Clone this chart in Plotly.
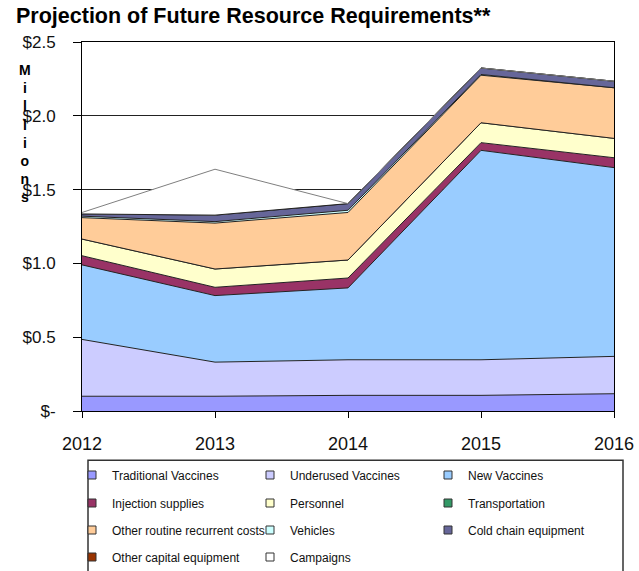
"""Projection of Future Resource Requirements — stacked area chart (millions USD)."""

import plotly.graph_objects as go

years = [2012, 2013, 2014, 2015, 2016]

# values per category, millions of dollars
traditional_vaccines = [0.100, 0.100, 0.106, 0.106, 0.117]
underused_vaccines = [0.385, 0.231, 0.241, 0.241, 0.253]
new_vaccines = [0.505, 0.451, 0.487, 1.419, 1.279]
injection_supplies = [0.062, 0.056, 0.067, 0.052, 0.067]
personnel = [0.113, 0.124, 0.122, 0.135, 0.131]
transportation = [0.0, 0.0, 0.0, 0.0, 0.0]
other_routine = [0.145, 0.311, 0.322, 0.322, 0.343]
vehicles = [0.010, 0.010, 0.015, 0.005, 0.0]
cold_chain = [0.015, 0.044, 0.045, 0.044, 0.044]
other_capital = [0.0, 0.0, 0.0, 0.0, 0.0]
campaigns = [0.010, 0.311, 0.0, 0.0, 0.0]

series_names = [
    "Traditional Vaccines", "Underused Vaccines", "New Vaccines",
    "Injection supplies", "Personnel", "Transportation",
    "Other routine recurrent costs", "Vehicles", "Cold chain equipment",
    "Other capital equipment", "Campaigns",
]
series_values = [
    traditional_vaccines, underused_vaccines, new_vaccines,
    injection_supplies, personnel, transportation,
    other_routine, vehicles, cold_chain,
    other_capital, campaigns,
]
series_colors = [
    "#9999FF", "#CCCCFF", "#99CCFF",
    "#993366", "#FFFFCC", "#339966",
    "#FFCC99", "#CCFFFF", "#666699",
    "#993300", "#FFFFFF",
]

y_tick_vals = [0, 0.5, 1.0, 1.5, 2.0, 2.5]
y_tick_text = ["$-", "$0.5", "$1.0", "$1.5", "$2.0", "$2.5"]

FONT = "Liberation Sans, Arial, sans-serif"
INK = "#111111"

fig = go.Figure()

# stacked areas
for name, vals, color in zip(series_names, series_values, series_colors):
    edge = "#7f7f7f" if name == "Campaigns" else "#222222"
    fig.add_trace(go.Scatter(
        x=years, y=vals, name=name, stackgroup="one", mode="lines",
        line=dict(color=edge, width=1), fillcolor=color,
        showlegend=False, hoverinfo="x+y+name",
    ))

# legend entries: 4 rows of 3 columns, one legend per row
legend_rows = ["legend", "legend2", "legend3", "legend4"]
for i, (name, color) in enumerate(zip(series_names, series_colors)):
    fig.add_trace(go.Scatter(
        x=[None], y=[None], name=name, mode="markers",
        marker=dict(symbol="square", size=8, color=color, line=dict(color="#333333", width=1)),
        legend=legend_rows[i // 3],
        legendwidth=133 if i % 3 < 2 else 124,
    ))

row_y = [475, 503, 530, 557]
legend_common = dict(
    orientation="h", xref="container", yref="container",
    x=72 / 639, xanchor="left", yanchor="middle", traceorder="normal",
    entrywidth=133, entrywidthmode="pixels",
    bgcolor="rgba(0,0,0,0)", borderwidth=0,
    font=dict(family=FONT, size=12, color=INK),
)
legends = {key: dict(legend_common, y=1 - ry / 571) for key, ry in zip(legend_rows, row_y)}

fig.update_layout(
    width=639, height=571,
    margin=dict(l=82, r=25, t=42, b=160, autoexpand=False),
    paper_bgcolor="white", plot_bgcolor="white",
    font=dict(family=FONT, color=INK),
    title=dict(
        text="<b>Projection of Future Resource Requirements**</b>",
        x=16 / 639, xanchor="left", xref="container",
        y=1 - 15 / 571, yanchor="middle", yref="container",
        font=dict(family=FONT, size=21.5, color="#000000"),
    ),
    **legends,
)

fig.update_xaxes(
    range=[2012, 2016], tickvals=years, ticktext=[str(y) for y in years],
    showgrid=False, showline=True, linecolor="#000000", linewidth=1, mirror=True,
    ticks="outside", ticklen=6, tickcolor="#000000", ticklabelstandoff=10,
    tickfont=dict(family=FONT, size=18, color=INK), zeroline=False,
)
fig.update_yaxes(
    range=[0, 2.5], tickvals=y_tick_vals, ticktext=y_tick_text,
    showgrid=True, gridcolor="#222222", gridwidth=1,
    showline=True, linecolor="#000000", linewidth=1, mirror=True,
    ticks="outside", ticklen=8, tickcolor="#000000", ticklabelstandoff=14,
    tickfont=dict(family=FONT, size=17, color=INK), zeroline=False,
)

# vertical "Millions" axis label, one letter per line
fig.add_annotation(
    text="<br>".join("Millions"), xref="paper", yref="paper",
    x=(25 - 82) / 532, y=(410.7 - 133) / 369, xanchor="center", yanchor="middle",
    showarrow=False, align="center",
    font=dict(family=FONT, size=14, color="#000000", weight="bold"),
)

# legend frame (bottom runs off the page, as in the reference)
fig.add_shape(
    type="rect", xref="paper", yref="paper",
    x0=(88 - 82) / 532, x1=(623 - 82) / 532,
    y0=(410.7 - 460) / 369, y1=(410.7 - 585) / 369,
    line=dict(color="#333333", width=1.5), fillcolor="rgba(0,0,0,0)", layer="below",
)

# page body margin would shift the whole figure by 8px
fig.write_html(
    "out.html",
    config={"displayModeBar": False},
    post_script="document.body.style.margin='0';",
)
